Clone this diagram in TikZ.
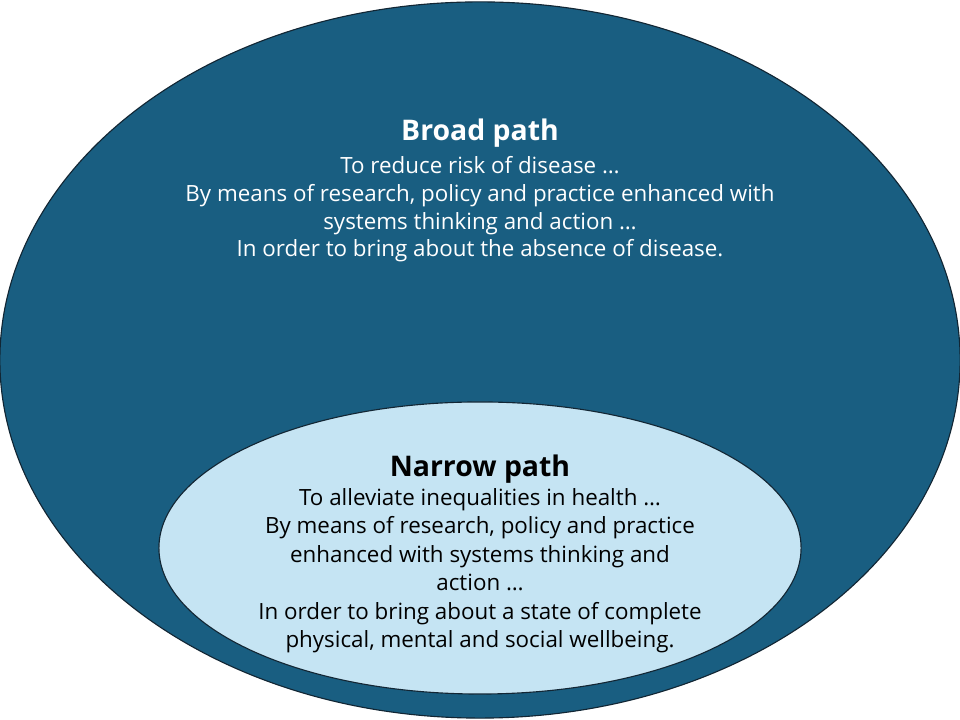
\documentclass[tikz,border=0pt]{standalone}
\usepackage{fontspec}
\setmainfont{Open Sans}
\usetikzlibrary{shapes.geometric}
\definecolor{broadblue}{RGB}{25,94,129}
\definecolor{narrowblue}{RGB}{197,228,243}
\definecolor{rimdark}{RGB}{18,38,52}
\tikzset{
  pathring/.style = {ellipse, draw=rimdark, line width=0.8pt, inner sep=0pt},
  pathtxt/.style  = {align=center, inner sep=0pt,
                     font=\fontsize{15.9pt}{20.3pt}\selectfont},
  headtxt/.style  = {inner sep=0pt, font=\fontsize{20.2pt}{24pt}\selectfont\bfseries}
}

\begin{document}
\begin{tikzpicture}[x=0.025cm, y=0.025cm]
\useasboundingbox (0,0) rectangle (960,720);

% ---------------- rings ----------------
\node[pathring, fill=broadblue, minimum width=24cm, minimum height=17.9cm] (broad) at (480,360) {};
\node[pathring, fill=narrowblue, minimum width=16.05cm, minimum height=7.3cm] (narrow) at (480,172) {};

% ---------------- broad path text ----------------
\node[headtxt, text=white] (broadhead) at (480,587) {Broad path};
\node[pathtxt, text=white, anchor=north, font=\fontsize{15.9pt}{19.8pt}\selectfont] (broadbody) at (480,564)
      {To reduce risk of disease \ldots\\
       By means of research, policy and practice enhanced with\\
       systems thinking and action \ldots\\
       In order to bring about the absence of disease.};

% ---------------- narrow path text ----------------
\node[headtxt, text=black] (narrowhead) at (480,251) {Narrow path};
\node[pathtxt, text=black, anchor=north] (narrowbody) at (480,232)
      {To alleviate inequalities in health \ldots\\
       By means of research, policy and practice\\
       enhanced with systems thinking and\\
       action \ldots\\
       In order to bring about a state of complete\\
       physical, mental and social wellbeing.};

\end{tikzpicture}
\end{document}
